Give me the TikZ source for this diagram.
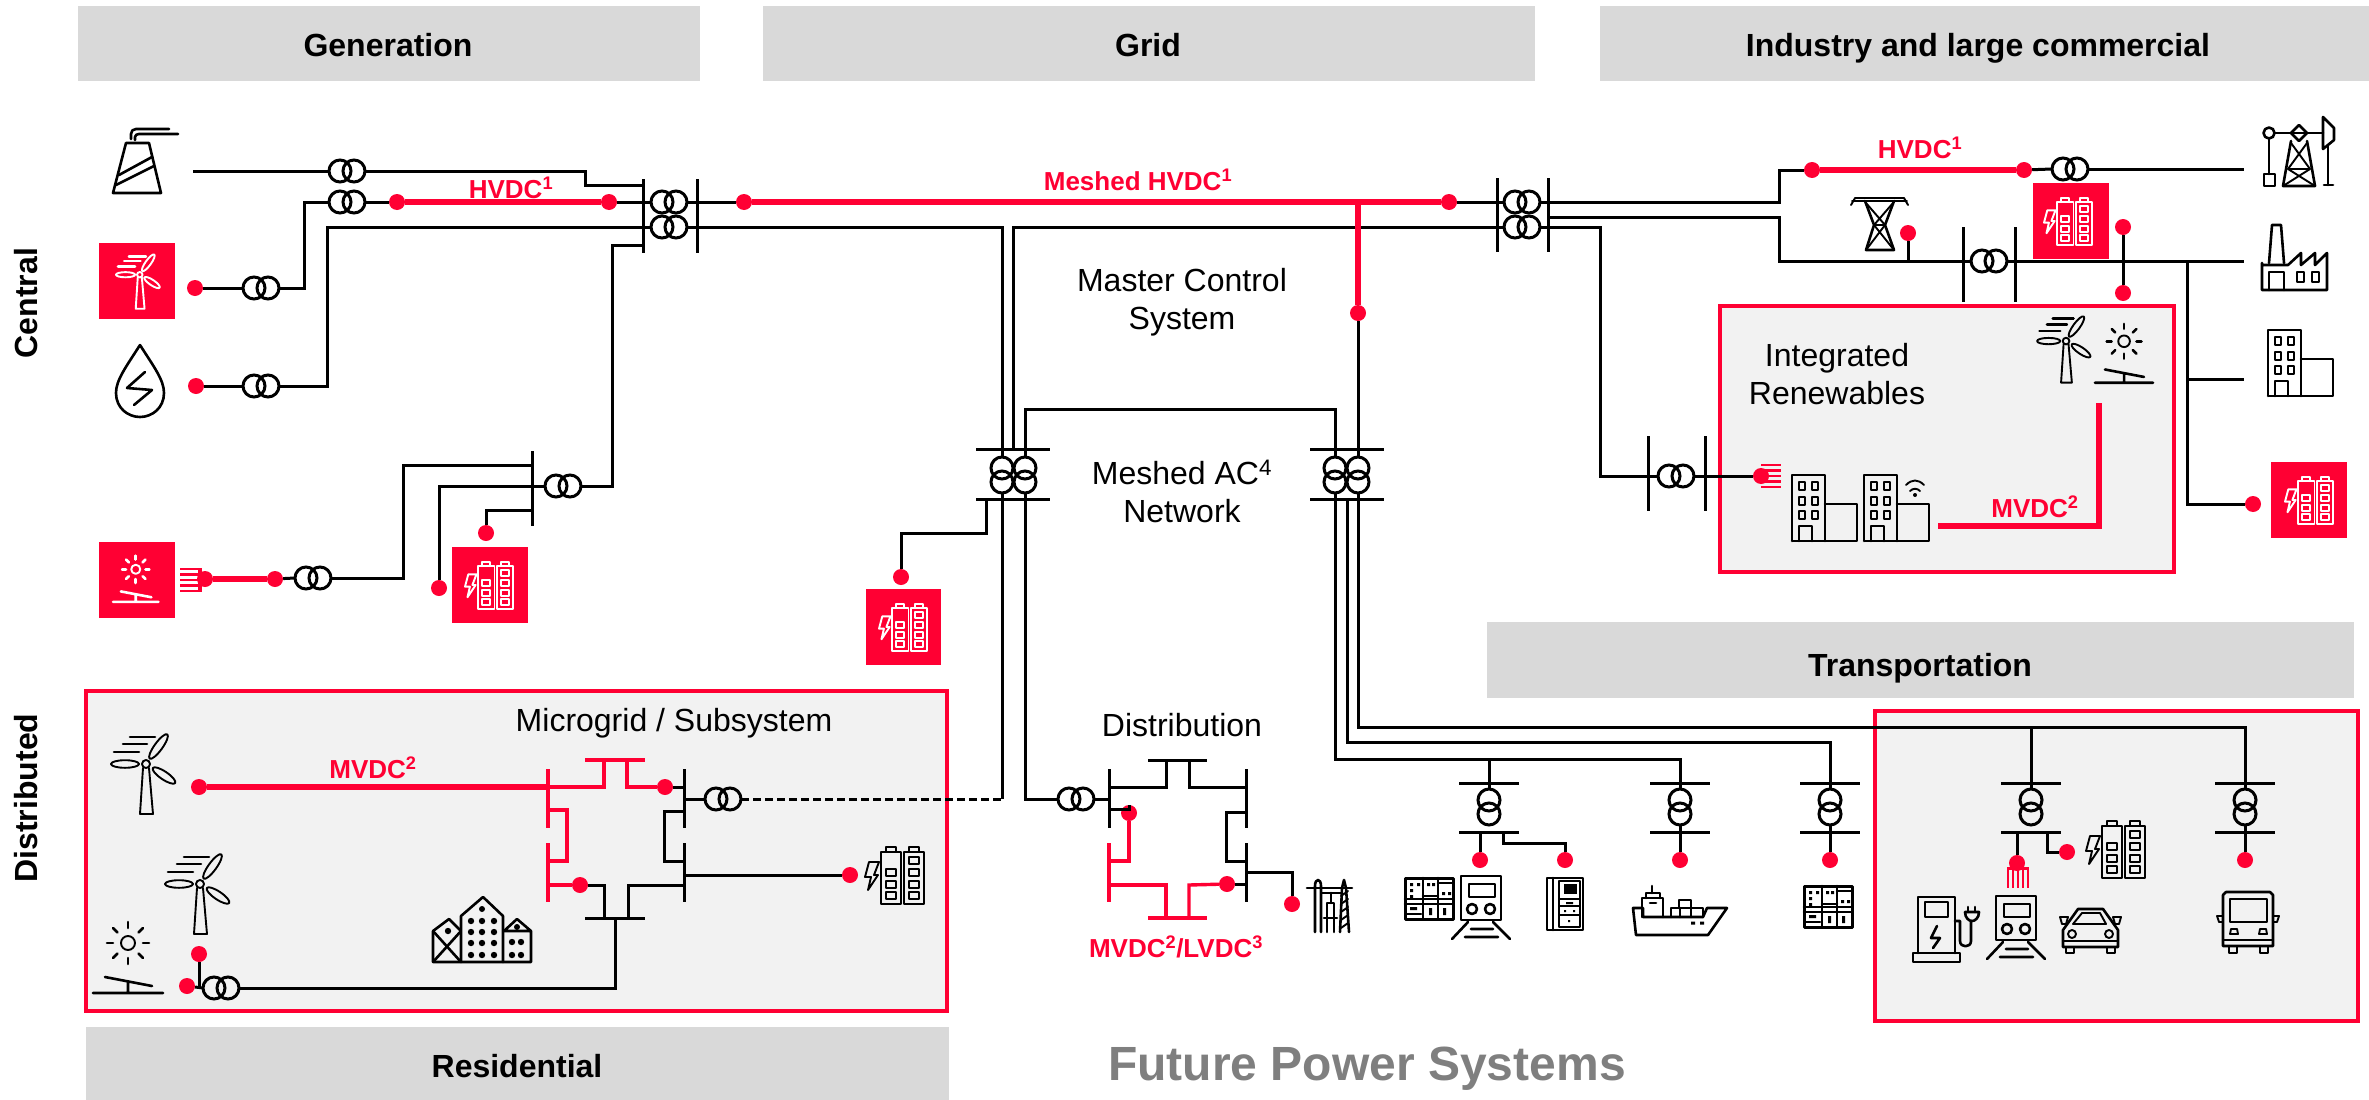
\documentclass[tikz,border=0pt]{standalone}
\usepackage{fontspec}
\setmainfont{Liberation Sans}
\usetikzlibrary{calc}
\definecolor{rd}{HTML}{FF0033}
\definecolor{hdr}{HTML}{D9D9D9}
\definecolor{pnl}{HTML}{F2F2F2}
\definecolor{ttl}{HTML}{7F7F7F}
\tikzset{
  ln/.style={line width=3pt,draw=black,line join=miter},
  rthin/.style={line width=3.4pt,draw=rd},
  rthick/.style={line width=6pt,draw=rd},
  dot/.style={circle,fill=rd,draw=none,inner sep=0pt,minimum size=16pt},
  xbox/.style={rectangle,draw=none,inner sep=0pt,outer sep=0pt},
  xring/.style={line width=3pt,draw=black},
  hbar/.style={fill=hdr,draw=none},
  panel/.style={fill=pnl,draw=rd,line width=4.5pt},
  sq/.style={fill=rd,draw=none},
  ic/.style={line width=2.6pt,line join=round,line cap=round},
  icf/.style={line width=1.9pt,line join=round,line cap=round},
  txt/.style={align=center,inner sep=0pt,font=\fontsize{32}{38}\selectfont},
  hd/.style={align=center,inner sep=0pt,font=\fontsize{32}{38}\selectfont\bfseries},
  rlab/.style={align=center,inner sep=0pt,text=rd,font=\fontsize{26}{30}\selectfont\bfseries}
}
% transformers
\newcommand\xh[3]{\node[xbox,minimum width=36pt,minimum height=22pt] (#1) at (#2,#3) {};
  \draw[xring] (#2-7,#3) circle [radius=11pt]; \draw[xring] (#2+7,#3) circle [radius=11pt];}
\newcommand\xv[3]{\node[xbox,minimum width=22pt,minimum height=36pt] (#1) at (#2,#3) {};
  \draw[xring] (#2,#3-7) circle [radius=11pt]; \draw[xring] (#2,#3+7) circle [radius=11pt];}
\newcommand\dd[3]{\node[dot] (#1) at (#2,#3) {};}
\newcommand\cc[3]{\coordinate (#1) at (#2,#3);}
% icons: x y scale colour
\newcommand\icWind[4]{\begin{scope}[shift={(#1,#2)},scale=#3]
  \draw[icf,draw=#4] (32,33) -- (29,79) -- (42,79) -- (38,33);
  \draw[icf,draw=#4] (35,29) circle [radius=4];
  \draw[icf,draw=#4] (47.5,11.5) ellipse [x radius=15,y radius=4,rotate=54];
  \draw[icf,draw=#4] (14,29) ellipse [x radius=14,y radius=3.8];
  \draw[icf,draw=#4] (53,40.5) ellipse [x radius=13.5,y radius=4,rotate=-34];
  \draw[ic,draw=#4] (19,2) -- (44,2) (12,9) -- (36,9) (3,17) -- (28,17);
\end{scope}}
\newcommand\icSolar[4]{\begin{scope}[shift={(#1,#2)},scale=#3]
  \draw[icf,draw=#4] (35,22) circle [radius=7];
  \foreach \a in {0,45,...,315}{\draw[ic,draw=#4] ($(35,22)+(\a:15)$) -- ($(35,22)+(\a:21)$);}
  \draw[ic,draw=#4] (0,72) -- (70,72) (35,61) -- (35,72) (12,56) -- (59,65);
\end{scope}}
\newcommand\icBatt[4]{\begin{scope}[shift={(#1,#2)},scale=#3]
  \draw[icf,draw=#4] (4,15) -- (14,15) -- (9,28) -- (13,28) -- (3,43) -- (6,30) -- (0,30) -- cycle;
  \draw[icf,draw=#4] (16,5) rectangle (36,57) (21,5) -- (21,0) -- (31,0) -- (31,5);
  \draw[icf,draw=#4] (39,5) rectangle (59,57) (44,5) -- (44,0) -- (54,0) -- (54,5);
  \foreach \y in {22,34,45}{\draw[icf,draw=#4] (21,\y) rectangle (31,\y+7);}
  \foreach \y in {10,22,34,45}{\draw[icf,draw=#4] (44,\y) rectangle (54,\y+7);}
\end{scope}}
\newcommand\icBld[3]{\begin{scope}[shift={(#1,#2)},scale=#3]
  \draw[ic] (0,66) -- (0,0) -- (33,0) -- (33,66) (33,29) -- (65,29) -- (65,66) -- (0,66);
  \foreach \x in {7,20}{\foreach \y in {7,22,36}{\draw[icf] (\x,\y) rectangle (\x+6,\y+8);}}
  \draw[ic] (7,66) -- (7,51) -- (20,51) -- (20,66);
\end{scope}}
\newcommand\icTrain[2]{\begin{scope}[shift={(#1,#2)}]
  \draw[ic] (9,0) rectangle (49,44);
  \draw[ic] (17,8) rectangle (43,21);
  \draw[ic] (20,33) circle [radius=5] (38,33) circle [radius=5];
  \draw[ic] (16,46) -- (0,63) (41,46) -- (58,63) (19,53) -- (41,53) (13,61) -- (46,61);
\end{scope}}
\newcommand\icCab[2]{\begin{scope}[shift={(#1,#2)}]
  \draw[line width=3pt,line join=round] (0,0) rectangle (48,41);
  \draw[ic] (18,0) -- (18,41) (33,0) -- (33,41) (0,21) -- (48,21) (0,26) -- (48,26) (33,5) -- (48,5) (18,18) -- (33,18) (2,36) -- (16,36);
  \fill (5,5) rectangle (8,8) (12,5) rectangle (15,8) (5,11) rectangle (8,14) (5,17) rectangle (8,20)
        (22,5) rectangle (25,8) (27,5) rectangle (30,8) (37,14) rectangle (40,17) (43,14) rectangle (46,17)
        (24,30) rectangle (27,37) (38,30) rectangle (41,37) (5,29) rectangle (12,32);
\end{scope}}
\begin{document}
\begin{tikzpicture}[x=1pt,y=-1pt]
\useasboundingbox (0,0) rectangle (2369,1100);
% headers
\fill[hbar] (78,6) rectangle (700,81);
\fill[hbar] (763,6) rectangle (1535,81);
\fill[hbar] (1600,6) rectangle (2369,81);
\fill[hbar] (86,1027) rectangle (949,1100);
\fill[hbar] (1487,622) rectangle (2354,698);
\node[hd] (hgen) at (388,45) {Generation};
\node[hd] (hgrid) at (1148,45) {Grid};
\node[hd] (hind) at (1978,48) {Industry and large commercial};
\node[hd] (hres) at (517,1066) {Residential};
\node[hd] (htra) at (1920,668) {Transportation};
\node[hd,rotate=90] (hcen) at (26,303) {Central};
\node[hd,rotate=90] (hdis) at (26,798) {Distributed};
\node[align=center,inner sep=0pt,text=ttl,font=\fontsize{48}{56}\selectfont\bfseries] (title) at (1367,1069) {Future Power Systems};
% panels
\draw[panel] (1720,306) rectangle (2174,572);
\draw[panel] (86,691) rectangle (947,1011);
\draw[panel] (1875,711) rectangle (2358,1021);
% red squares
\fill[sq] (99,243) rectangle (175,319);
\fill[sq] (99,542) rectangle (175,618);
\fill[sq] (452,547) rectangle (528,623);
\fill[sq] (866,589) rectangle (941,665);
\fill[sq] (2033,183) rectangle (2109,259);
\fill[sq] (2271,462) rectangle (2347,538);

% ---- transformers
\xh{ta}{347}{171} \xh{tb}{347}{202} \xh{tc}{261}{288} \xh{td}{261}{386}
\xh{te}{563}{486} \xh{tf}{313}{578} \xh{tg}{669}{202} \xh{th}{669}{227}
\xh{ti}{1522}{202} \xh{tj}{1522}{227}
\xv{tk}{1002}{475} \xv{tl}{1025}{475} \xv{tm}{1335}{475} \xv{tn}{1358}{475}
\xh{to}{2070}{169} \xh{tp}{1989}{261} \xh{tq}{1676}{476}
\xh{tr}{221}{988} \xh{ts}{723}{799} \xh{tt}{1076}{799}
\xv{sa}{1489}{807} \xv{sb}{1680}{807} \xv{sc}{1830}{807} \xv{sd}{2031}{807} \xv{se}{2245}{807}
% ---- dots
\dd{da}{195}{288} \dd{db}{196}{386} \dd{dc}{397}{202} \dd{dd}{609}{202}
\dd{de}{275}{579} \dd{df}{205}{579} \dd{dg}{439}{588} \dd{dh}{486}{533}
\dd{di}{744}{202} \dd{dj}{1449}{202} \dd{dk}{1358}{313} \dd{dl}{901}{577}
\dd{dm}{1812}{170} \dd{dn}{2024}{170} \dd{do}{1908}{233} \dd{dp}{2123}{227} \dd{dq}{2123}{293}
\dd{dr}{2253}{504} \dd{ds}{1761}{476}
\dd{dt}{199}{787} \dd{du}{665}{787} \dd{dv}{580}{885} \dd{dw}{199}{954} \dd{dx}{187}{986} \dd{dy}{850}{875}
\dd{dz}{1129}{813} \dd{ea}{1227}{884} \dd{eb}{1292}{904}
\dd{ec}{1480}{860} \dd{ed}{1565}{860} \dd{ee}{1680}{860} \dd{ef}{1830}{860}
\dd{eg}{2017}{863} \dd{eh}{2067}{852} \dd{ei}{2245}{860}
% ---- bus ends and bends
\cc{ba}{643}{179} \cc{bb}{643}{253} \cc{bc}{697}{179} \cc{bd}{697}{253}
\cc{be}{1497}{178} \cc{bf}{1497}{252} \cc{bg}{1548}{178} \cc{bh}{1548}{252}
\cc{bi}{532}{451} \cc{bj}{532}{526}
\cc{bk}{976}{449} \cc{bl}{1050}{449} \cc{bm}{976}{499} \cc{bn}{1050}{499}
\cc{bo}{1310}{449} \cc{bp}{1384}{449} \cc{bq}{1310}{499} \cc{br}{1384}{499}
\cc{bs}{1963}{227} \cc{bt}{1963}{302} \cc{bu}{2015}{227} \cc{bv}{2015}{302}
\cc{bw}{1648}{436} \cc{bx}{1648}{511} \cc{by}{1705}{436} \cc{bz}{1705}{511}
% Generation
\cc{pa}{193}{171} \cc{pb}{585}{185} \cc{pc}{304}{288} \cc{pd}{327}{386}
\cc{pe}{612}{245} \cc{pf}{612}{486} \cc{pg}{403}{465} \cc{ph}{439}{486} \cc{pi}{486}{510}
\draw[ln] (ba) -- (bb); \draw[ln] (bc) -- (bd);
\draw[ln] (pa) -- (ta.west);
\draw[ln] (ta.east) -| (pb) -- (pb -| ba);
\draw[ln] (tg.west) -- (dd);
\draw[rthick] (dc) -- (dd);
\draw[ln] (tb.east) -- (dc);
\draw[ln] (tb.west) -| (pc) -- (tc.east);
\draw[ln] (da) -- (tc.west);
\draw[ln] (th.west) -| (pd) -- (td.east);
\draw[ln] (db) -- (td.west);
\draw[ln] (pe -| ba) -- (pe) -- (pf) -- (te.east);
\draw[ln] (bi) -- (bj);
\draw[ln] (te.west) -- (ph) -- (dg);
\draw[ln] (pg -| bi) -- (pg) |- (tf.east);
\draw[ln] (tf.west) -- (de);
\draw[rthick] (de) -- (df);
\draw[ln] (pi -| bi) -- (pi) -- (dh);
% comb solar
\foreach \y in {569,574.5,580,585.5,591}{\draw[line width=2.6pt,draw=rd] (180,\y) -- (201,\y);}
\draw[line width=4pt,draw=rd] (200,568) -- (200,592);
% Grid
\cc{qa}{1013}{449} \cc{qb}{1335}{409} \cc{qc}{1358}{202}
\cc{qd}{986}{499} \cc{qe}{986}{533} \cc{qf}{901}{533}
\cc{qg}{1002}{799} \cc{qh}{1025}{799} \cc{qi}{1109}{799}
\draw[ln] (bk) -- (bl); \draw[ln] (bm) -- (bn);
\draw[ln] (bo) -- (bp); \draw[ln] (bq) -- (br);
\draw[ln] (be) -- (bf); \draw[ln] (bg) -- (bh);
\draw[ln] (tg.east) -- (di);
\draw[ln] (dj) -- (ti.west);
\draw[ln] (th.east) -| (tk.north);
\draw[ln] (tj.west) -| (qa);
\draw[ln] (tl.north) |- (qb) -- (tm.north);
\draw[rthick] (di) -- (dj);
\draw[rthick] (qc) -- (dk);
\draw[ln] (dk) -- (tn.north);
\draw[ln] (qd) -- (qe) -- (qf) -- (dl);
\draw[ln] (tk.south) -- (qg);
\draw[ln,dash pattern=on 8pt off 4pt] (ts.east) -- (qg);
\draw[ln] (tl.south) -- (qh) -- (tt.west);
\draw[ln] (tt.east) -- (qi);
% Right side
\cc{ra}{1779}{170} \cc{rb}{2244}{169} \cc{rc}{1779}{217} \cc{rd}{1779}{261} \cc{re}{2244}{261}
\cc{rf}{2187}{261} \cc{rg}{2187}{504} \cc{rh}{2187}{379} \cc{ri}{2244}{379}
\cc{rj}{1600}{476} \cc{rk}{1938}{526} \cc{rl}{2099}{526} \cc{rm}{2099}{403}
\draw[ln] (ti.east) -| (ra) -- (dm);
\draw[rthick] (dm) -- (dn);
\draw[ln] (dn) -- (to.west);
\draw[ln] (to.east) -- (rb);
\draw[ln] (rc -| bg) -- (rc) -- (rd) -- (tp.west);
\draw[ln] (tp.east) -- (re);
\draw[ln] (bs) -- (bt); \draw[ln] (bu) -- (bv);
\draw[ln] (do) -- (do |- rd);
\draw[ln] (dp) -- (dq);
\draw[ln] (rf) -- (rg) -- (dr);
\draw[ln] (rh) -- (ri);
\draw[ln] (tj.east) -| (rj) -- (tq.west);
\draw[ln] (bw) -- (bx); \draw[ln] (by) -- (bz);
\draw[ln] (tq.east) -- (ds);
\foreach \y in {465,470.5,476,481.5,487}{\draw[line width=2.6pt,draw=rd] (1761,\y) -- (1781,\y);}
\draw[line width=6pt,draw=rd,line cap=butt] (rk) -- (rl) -- (rm);
% Microgrid
\cc{ma}{548}{769} \cc{mb}{548}{828} \cc{mc}{548}{843} \cc{md}{548}{902}
\cc{me}{684}{769} \cc{mf}{684}{828} \cc{mg}{684}{843} \cc{mh}{684}{902}
\cc{mi}{585}{760} \cc{mj}{645}{760} \cc{mk}{585}{918} \cc{ml}{645}{918}
\cc{mm}{604}{787} \cc{mn}{604}{760} \cc{mo}{627}{760} \cc{mp}{627}{787}
\cc{mq}{567}{810} \cc{mr}{567}{861} \cc{ms}{604}{885} \cc{mt}{604}{918} \cc{mu}{628}{918} \cc{mv}{628}{885}
\cc{mw}{615}{918} \cc{mx}{615}{988} \cc{my}{664}{811} \cc{mz}{664}{861}
\draw[rthin] (ma) -- (mb); \draw[rthin] (mc) -- (md);
\draw[ln] (me) -- (mf); \draw[ln] (mg) -- (mh);
\draw[rthin] (mi) -- (mj); \draw[ln] (mk) -- (ml);
\draw[rthick] (dt) -- (dt -| ma);
\draw[rthin] (dt -| ma) -- (mm) -- (mn);
\draw[rthin] (mo) -- (mp) -- (du);
\draw[ln] (du) -- (du -| me);
\draw[rthin] (mq -| ma) -- (mq) -- (mr) -- (mr -| ma);
\draw[ln] (my -| me) -- (my) -- (mz) -- (mz -| me);
\draw[rthin] (dv -| ma) -- (dv);
\draw[ln] (dv) -- (ms) -- (mt);
\draw[ln] (mu) -- (mv) -- (mv -| me);
\draw[ln] (mw) -- (mx) -- (tr.east);
\draw[ln] (dx) -- (tr.west);
\draw[ln] (dw) -- (dw |- dx);
\draw[ln] (ts.west) -- (ts.west -| me);
\draw[ln] (dy -| me) -- (dy);
% Distribution
\cc{na}{1109}{769} \cc{nb}{1109}{828} \cc{nc}{1109}{843} \cc{nd}{1109}{902}
\cc{ne}{1246}{769} \cc{nf}{1246}{828} \cc{ng}{1246}{843} \cc{nh}{1246}{902}
\cc{ni}{1148}{760} \cc{nj}{1207}{760} \cc{nk}{1148}{918} \cc{nl}{1207}{918}
\cc{nm}{1166}{787} \cc{nn}{1166}{760} \cc{no}{1189}{760} \cc{np}{1189}{787}
\cc{nq}{1129}{861} \cc{nr}{1166}{885} \cc{ns}{1166}{918} \cc{nt}{1189}{918} \cc{nu}{1189}{885}
\cc{nv}{1226}{812} \cc{nw}{1226}{861} \cc{nx}{1246}{872} \cc{ny}{1292}{872} \cc{nz}{1109}{809}
\draw[ln] (na) -- (nb); \draw[rthin] (nc) -- (nd);
\draw[ln] (ne) -- (nf); \draw[ln] (ng) -- (nh);
\draw[ln] (ni) -- (nj); \draw[rthin] (nk) -- (nl);
\draw[ln] (nm -| na) -- (nm) -- (nn);
\draw[ln] (no) -- (np) -- (np -| ne);
\draw[ln] (nz) -- (nz -| dz) -- (dz);
\draw[rthin] (dz) -- (nq) -- (nq -| nc);
\draw[rthin] (nr -| nc) -- (nr) -- (ns);
\draw[rthin] (nt) -- (nu) -- (ea);
\draw[ln] (ea) -- (ea -| ne);
\draw[ln] (nv -| ne) -- (nv) -- (nw) -- (nw -| ne);
\draw[ln] (nx) -- (ny) -- (eb);
% Transport feeders
\cc{ca}{1336}{759} \cc{cb}{1680}{759} \cc{cc}{1358}{727} \cc{cd}{2245}{727} \cc{ce}{1347}{499} \cc{cf}{1347}{742} \cc{cg}{1830}{742}
\draw[ln] (tm.south) -- (tm.south |- ca) -- (cb) -- (sb.north);
\draw[ln] (tn.south) -- (cc) -- (cd) -- (se.north);
\draw[ln] (ce) -- (cf) -- (cg) -- (sc.north);
\draw[ln] (sa.north) -- (sa.north |- ca);
\draw[ln] (sd.north) -- (sd.north |- cc);
\foreach \x in {1489,1680,1830,2031,2245}{
  \draw[ln] ($(\x,783)+(-30,0)$) -- ($(\x,783)+(30,0)$);
  \draw[ln] ($(\x,832)+(-30,0)$) -- ($(\x,832)+(30,0)$);}
\draw[ln] (sb.south) -- (ee); \draw[ln] (sc.south) -- (ef); \draw[ln] (se.south) -- (ei);
\cc{ua}{1480}{832} \cc{ub}{1503}{832} \cc{uc}{1503}{843} \cc{ud}{1565}{843}
\draw[ln] (ua) -- (ec);
\draw[ln] (ub) -- (uc) -- (ud) -- (ed);
\cc{ue}{2017}{832} \cc{uf}{2047}{832} \cc{ug}{2047}{852}
\draw[ln] (ue) -- (eg);
\draw[ln] (uf) -- (ug) -- (eh);
\foreach \x in {2008,2013,2018,2023,2028}{\draw[line width=2.6pt,draw=rd] (\x,868) -- (\x,888);}
\draw[line width=3pt,draw=rd] (2007,868) -- (2029,868);

% ---- icons
% fossil plant
\begin{scope}[shift={(113,129)}]
  \draw[ic] (13,14) -- (36,14) -- (48,64) -- (0,64) -- cycle;
  \draw[ic] (6,46) -- (39,28) (3,56) -- (41,37);
  \draw[ic] (18,10) -- (18,5) .. controls (18,2) and (20,0) .. (23,0) -- (56,0);
  \draw[ic] (22,11) -- (22,8) .. controls (22,6) and (24,5) .. (26,5) -- (65,5);
\end{scope}
% drop
\begin{scope}[shift={(116,345)}]
  \draw[ic] (24,0) .. controls (10,22) and (0,35) .. (0,48) .. controls (0,63) and (12,72) .. (24,72) .. controls (36,72) and (48,63) .. (48,48) .. controls (48,35) and (38,22) .. (24,0);
  \draw[ic] (29,27) -- (11,43) -- (36,45) -- (18,60);
\end{scope}
\icWind{116}{255}{0.68}{white}
\icSolar{113}{555}{0.65}{white}
\icBatt{465}{562}{0.82}{white}
\icBatt{879}{604}{0.82}{white}
\icBatt{2044}{198}{0.82}{white}
\icBatt{2285}{477}{0.82}{white}
\icBatt{865}{847}{1}{black}
\icBatt{2086}{821}{1}{black}
\icWind{111}{735}{1}{black}
\icWind{165}{855}{1}{black}
\icSolar{93}{921}{1}{black}
\icWind{2037}{317}{0.83}{black}
\icSolar{2095}{323}{0.83}{black}
\icBld{1792}{475}{1}
\icBld{1864}{475}{1}
\icBld{2268}{330}{1}
% wifi
\draw[icf] (1906,485) .. controls (1912,479) and (1918,479) .. (1924,485);
\draw[icf] (1910,491) .. controls (1913,488) and (1917,488) .. (1920,491);
\fill (1915,495) circle [radius=2];
% pump jack
\begin{scope}[shift={(2263,117)}]
  \draw[ic] (6,16) circle [radius=5.5];
  \draw[ic] (6,22) -- (6,57); \draw[ic] (1,57) rectangle (12,69);
  \draw[ic] (12,16) -- (60,16);
  \draw[ic] (60,0) -- (71,11) -- (71,23) -- (60,32) -- cycle;
  \draw[ic] (28,16) -- (36,8) -- (44,16) -- (36,24) -- cycle;
  \draw[ic] (28,24) -- (20,69) -- (52,69) -- (44,24);
  \draw[icf] (28,26) -- (47,52) -- (20,69) (44,26) -- (25,52) -- (52,69) (25,52) -- (47,52);
  \draw[ic] (65,29) -- (65,68) (61,68) -- (70,68);
\end{scope}
% pylon
\begin{scope}[shift={(1851,197)}]
  \draw[icf] (0,8) -- (4,1) -- (53,1) -- (57,8) (1,4) -- (56,4);
  \draw[ic] (14,4) -- (23,28) -- (15,53) -- (43,53) -- (34,28) -- (43,4);
  \draw[icf] (15,6) -- (34,28) (42,6) -- (23,28) (23,28) -- (43,53) (34,28) -- (15,53) (23,28) -- (34,28);
\end{scope}
% factory
\begin{scope}[shift={(2262,225)}]
  \draw[ic] (7,38) -- (10,0) -- (19,0) -- (22,38);
  \draw[ic] (0,38) -- (0,65) -- (65,65) -- (65,28) -- (53,40) -- (53,28) -- (39,40) -- (39,28) -- (26,40) -- (0,40);
  \draw[ic] (7,65) -- (7,47) -- (22,47) -- (22,65);
  \draw[icf] (35,47) rectangle (42,57) (50,47) rectangle (57,57);
\end{scope}
% town
\begin{scope}[shift={(433,897)}]
  \draw[ic] (0,34) -- (16,22) -- (28,34) (0,34) -- (0,65) -- (98,65) -- (98,34) -- (84,22) -- (71,34) -- (98,34);
  \draw[ic] (0,34) -- (28,65) (28,34) -- (0,65);
  \draw[ic] (28,65) -- (28,19) -- (50,0) -- (70,19) -- (70,65);
  \fill (15,34) circle [radius=3.2];
  \foreach \x in {38,49,61}{\foreach \y in {24,35,46,58}{\fill (\x,\y) circle [radius=3.2];}}
  \foreach \x in {79,88}{\foreach \y in {45,58}{\fill (\x,\y) circle [radius=3.2];}}
  \fill (84,30) circle [radius=3]; \fill (49,12) circle [radius=3];
\end{scope}
% plant icon at distribution
\begin{scope}[shift={(1307,880)}]
  \draw[ic] (0,8) -- (45,8);
  \draw[ic] (8,52) -- (8,6) .. controls (8,-2) and (14,-2) .. (14,6) -- (14,52);
  \draw[ic] (20,52) -- (20,23) -- (27,23) -- (27,52) (17,38) -- (30,38) (15,13) -- (35,13) (24,13) -- (24,23);
  \draw[ic] (33,52) -- (35,8) -- (37,0) -- (39,8) -- (42,52);
  \foreach \y in {16,24,32,40,48}{\draw[icf] (34,\y) -- (41,\y-5);}
\end{scope}
\icCab{1405}{878}
\icTrain{1452}{876}
% panel icon
\begin{scope}[shift={(1547,878)}]
  \draw[ic] (0,0) rectangle (36,52);
  \draw[ic] (6,0) -- (6,52);
  \draw[icf] (12,3) rectangle (33,49);
  \fill (17,6) rectangle (30,16);
  \draw[icf] (12,21) -- (33,21) (12,28) -- (33,28) (12,37) -- (33,37);
  \fill (19,24) rectangle (26,26) (17,32) rectangle (19,34) (26,32) rectangle (28,34) (21,42) rectangle (23,44);
\end{scope}
% ship
\begin{scope}[shift={(1633,886)}]
  \draw[ic] (0,22) -- (10,22) -- (10,31) -- (70,31) -- (74,22) -- (94,22) -- (75,49) -- (3,49) -- cycle;
  \draw[ic] (9,31) -- (9,12) -- (30,12) -- (30,31) (13,12) -- (13,7) -- (27,7) -- (27,12) (19,0) -- (19,7) (17,17) -- (23,17);
  \draw[ic] (38,31) -- (38,22) -- (70,22) -- (70,31) (46,22) -- (46,14) -- (58,14) -- (58,31) (47,22) -- (47,31);
  \fill (58,35.5) rectangle (62,38.5) (67,35.5) rectangle (71,38.5);
\end{scope}
\icCab{1804}{886}
% charger
\begin{scope}[shift={(1913,896)}]
  \draw[ic] (5,57) -- (5,1) -- (42,1) -- (42,57);
  \draw[ic] (0,57) rectangle (47,66);
  \draw[ic] (12,6) rectangle (35,21);
  \draw[ic] (24,30) -- (18,42) -- (27,42) -- (20,52);
  \draw[ic] (42,25) -- (47,25) -- (47,45) .. controls (47,52) and (58,52) .. (58,45) -- (58,25);
  \draw[ic] (52,16) -- (66,16) .. controls (66,22) and (62,25) .. (59,25) .. controls (56,25) and (52,22) .. (52,16);
  \draw[ic] (55,11) -- (55,16) (62,11) -- (62,16);
\end{scope}
\icTrain{1987}{896}
% car
\begin{scope}[shift={(2060,908)}]
  \draw[ic] (3,39) -- (3,22) -- (18,1) -- (43,1) -- (58,22) -- (58,39) -- cycle;
  \draw[icf] (22,5) -- (40,5) -- (46,16) -- (13,16) -- cycle;
  \draw[icf] (0,9) -- (8,9) -- (6,16) -- (2,16) -- cycle (61,9) -- (53,9) -- (55,16) -- (59,16) -- cycle;
  \draw[icf] (12,26) circle [radius=4] (49,26) circle [radius=4];
  \draw[icf] (3,33) -- (58,33);
  \draw[icf] (6,39) rectangle (14,45) (47,39) rectangle (55,45);
\end{scope}
% bus
\begin{scope}[shift={(2217,892)}]
  \draw[ic] (6,54) -- (6,3) -- (9,0) -- (53,0) -- (56,3) -- (56,54) -- cycle;
  \draw[ic] (13,7) rectangle (50,30);
  \draw[icf] (6,24) -- (0,24) -- (2,30) -- (6,30) (56,24) -- (62,24) -- (60,30) -- (56,30);
  \draw[icf] (14,37) -- (20,37) -- (21,42) -- (13,42) -- cycle (43,37) -- (49,37) -- (50,42) -- (42,42) -- cycle;
  \draw[icf] (6,48) -- (56,48);
  \draw[icf] (12,54) rectangle (20,61) (43,54) rectangle (51,61);
\end{scope}
% ---- labels
\node[rlab] (l1) at (511,188) {HVDC\textsuperscript{1}};
\node[rlab] (l2) at (1138,180) {Meshed HVDC\textsuperscript{1}};
\node[rlab] (l3) at (1920,148) {HVDC\textsuperscript{1}};
\node[rlab] (l4) at (2035,507) {MVDC\textsuperscript{2}};
\node[rlab] (l5) at (373,768) {MVDC\textsuperscript{2}};
\node[rlab] (l6) at (1176,947) {MVDC\textsuperscript{2}/LVDC\textsuperscript{3}};
\node[txt] (t1x) at (1182,302) {Master Control\\System};
\node[txt] (t2x) at (1182,491) {Meshed AC\textsuperscript{4}\\Network};
\node[txt] (t3x) at (1837,374) {Integrated\\Renewables};
\node[txt] (t4x) at (674,723) {Microgrid / Subsystem};
\node[txt] (t5x) at (1182,725) {Distribution};
\end{tikzpicture}
\end{document}
